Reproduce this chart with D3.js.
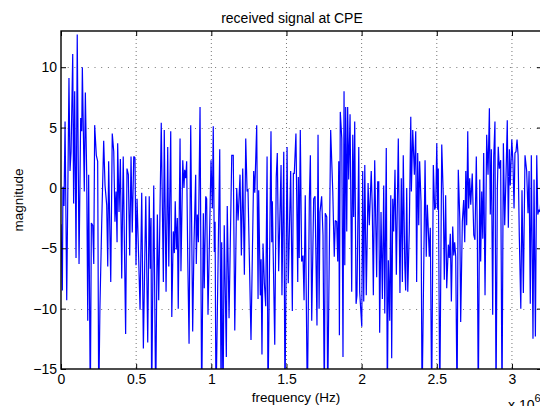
<!DOCTYPE html>
<html>
<head>
<meta charset="utf-8">
<script src="https://cdn.jsdelivr.net/npm/d3@7"></script>
<style>
html,body{margin:0;padding:0;background:#fff;overflow:hidden;}
svg{display:block;}
text{font-family:"Liberation Sans",Arial,Helvetica,sans-serif;}
</style>
</head>
<body>
<svg id="chart" width="540" height="406"></svg>
<script>
// frequency in units of 1e6 Hz (axis shows "x 10^6")
const freq = [
0.000,0.009,0.013,0.020,0.027,0.033,0.038,0.053,0.060,0.067,0.078,0.084,0.091,0.100,0.108,0.120,0.131,0.138,0.142,0.155,
0.162,0.171,0.178,0.184,0.195,0.202,0.211,0.218,0.224,0.235,0.244,0.251,0.259,0.271,0.284,0.293,0.304,0.311,0.317,0.331,
0.341,0.351,0.359,0.366,0.373,0.377,0.386,0.395,0.404,0.414,0.430,0.439,0.448,0.457,0.466,0.474,0.484,0.492,0.499,0.506,
0.526,0.537,0.548,0.564,0.577,0.587,0.594,0.599,0.603,0.617,0.630,0.641,0.650,0.667,0.681,0.687,0.699,0.710,0.717,0.730,
0.737,0.747,0.754,0.760,0.767,0.774,0.780,0.792,0.798,0.810,0.818,0.823,0.830,0.836,0.843,0.852,0.863,0.876,0.885,0.896,
0.900,0.907,0.914,0.925,0.936,0.947,0.953,0.963,0.969,0.978,0.998,1.007,1.013,1.020,1.025,1.031,1.056,1.065,1.069,1.078,
1.086,1.100,1.106,1.118,1.136,1.146,1.156,1.169,1.178,1.191,1.200,1.209,1.220,1.229,1.238,1.244,1.264,1.282,1.289,1.302,
1.311,1.315,1.326,1.331,1.337,1.344,1.353,1.362,1.371,1.377,1.397,1.402,1.406,1.422,1.432,1.439,1.448,1.464,1.470,1.482,
1.490,1.504,1.512,1.528,1.539,1.546,1.552,1.563,1.575,1.579,1.585,1.592,1.601,1.610,1.617,1.625,1.639,1.652,1.659,1.668,
1.681,1.690,1.703,1.710,1.717,1.723,1.734,1.743,1.752,1.758,1.768,1.774,1.794,1.808,1.818,1.825,1.834,1.841,1.848,1.852,
1.858,1.868,1.876,1.883,1.888,1.894,1.901,1.907,1.914,1.923,1.934,1.941,1.947,1.954,1.963,1.969,1.981,1.987,2.001,2.007,
2.014,2.021,2.031,2.043,2.051,2.064,2.071,2.078,2.087,2.100,2.107,2.114,2.120,2.129,2.138,2.147,2.154,2.164,2.171,2.178,
2.187,2.194,2.200,2.207,2.213,2.222,2.231,2.244,2.255,2.264,2.271,2.277,2.287,2.293,2.300,2.307,2.317,2.327,2.331,2.340,
2.351,2.360,2.366,2.373,2.380,2.386,2.395,2.402,2.422,2.430,2.437,2.444,2.450,2.457,2.466,2.477,2.486,2.493,2.500,2.506,
2.510,2.520,2.533,2.543,2.550,2.559,2.566,2.577,2.583,2.590,2.597,2.606,2.613,2.619,2.626,2.635,2.643,2.653,2.659,2.670,
2.679,2.686,2.693,2.699,2.706,2.712,2.719,2.726,2.736,2.746,2.754,2.763,2.770,2.776,2.786,2.792,2.799,2.806,2.812,2.821,
2.832,2.841,2.850,2.856,2.863,2.872,2.879,2.887,2.894,2.903,2.909,2.916,2.925,2.934,2.943,2.952,2.961,2.969,2.976,2.983,
2.989,2.999,3.007,3.014,3.020,3.027,3.034,3.041,3.049,3.059,3.067,3.076,3.087,3.098,3.107,3.114,3.122,3.129,3.140,3.147,
3.156,3.165,3.172,3.180,3.187,3.195,3.200
];
const magnitude = [
-3.0,-8.5,0.1,-1.5,5.5,-2.5,-9.3,9.1,1.4,3.0,11.1,-1.3,8.0,-5.8,12.7,-6.3,5.8,4.7,10.0,-0.3,
7.9,1.1,-11.0,1.1,-18,-2.9,-3.1,-6.3,5.2,2.7,2.2,-18,-9.9,-2.8,3.9,0.2,-1.4,-6.5,2.2,-7.8,
4.5,3.0,-2.8,-0.3,-4.5,3.7,-2.0,2.4,-7.5,2.6,-12.1,1.6,1.1,-5.6,2.6,-3.7,2.6,2.5,-6.4,-0.9,
-10.1,-0.4,-13.3,-0.7,-12.8,-0.7,-6.7,-2.5,-18,0.2,-18,-2.2,-9.3,5.4,-7.8,4.8,-8.6,3.4,-6.5,4.7,
-10.7,-3.6,-5.4,-1.1,-5.1,-2.5,-10.0,4.1,-6.9,2.3,0.0,1.5,0.8,2.2,-5.6,-12.9,5.2,-11.9,-4.5,1.1,
-6.3,-2.2,-4.5,6.7,-18,-2.1,-8.3,-0.7,-0.9,-10.5,2.3,-1.7,5.1,-5.3,-2.8,-18,3.2,-18,-4.5,-18,
-3.1,-14,-1.5,-10.8,2.7,2.7,-11.8,0.0,-2.7,1.1,-5.6,1.6,-7.2,4.1,-0.3,-0.1,-12.6,1.4,-0.4,5.2,
-9.2,-0.2,-8.9,-5.9,-13.8,-4.6,-7.9,-9.8,2.6,-18,4.7,-4.5,-1.1,-13,0.9,2.9,-6.9,1.9,-8.9,3.0,
-18,3.4,-7.9,1.4,-10.2,1.2,1.2,4.5,-7.8,0.9,-5.8,4.8,-6.1,-5.6,-9.3,-0.6,-18,-1.1,2.7,-11,
-0.9,-0.7,-11.4,4.4,-10,-2.0,-0.7,-3.9,-18,-2.1,-2.4,-18,4.8,-0.3,-5.7,-2.7,-2.8,-6.1,2.2,-12.2,
6.3,4.1,-14,8.0,-6.4,6.7,-3.6,6.7,0.7,6.1,-8.6,4.4,-2.4,5.5,-9.6,-8.9,3.4,-8.6,-11.5,1.4,
-9.4,1.9,-8.9,0.4,-3.1,1.4,-1.7,-8.9,2.3,-7.4,0.5,0.5,-12,-2.0,-9.2,0.2,-10.4,3.3,-18,-6.0,
-11,-0.6,-14.1,-0.9,-3.6,1.5,-7.2,4.1,-8.7,0.8,-7.8,2.7,-6.3,-8.5,0,-8.6,-3.6,5.9,-0.3,4.8,
1.1,4.7,-7.8,2.9,-3.1,2.2,-1.1,-18,2.3,-5.7,-1.4,-3.6,-5.7,-3.3,-18,1.9,-1.8,-1.5,3.7,-1.8,
1.6,-18,3.6,-0.6,-7.6,-0.6,-8.3,-4.7,-5.8,-3.8,-9.4,-3.2,-5.6,-4.5,-5.7,-18,1.5,-2.5,-11.1,-2.8,
-1.0,-4.5,1.4,-3.1,4.7,-1.7,0.8,-1.4,1.2,-3.9,-4.3,2.6,-4.2,-18,0.7,-6.1,-0.3,-4.2,2.9,-8.9,
4.4,1.1,6.6,-2.2,3.2,-10.5,2.6,5.5,-18,0,3.4,1.6,2.3,-18,3.7,-3.1,1.2,5.6,-3.3,3.2,
0.2,4.0,2.0,-1.7,2.9,3.0,4.0,2.7,-4.0,-10,-0.2,-8.7,2.7,1.4,-2.1,1.4,-9.6,2.7,-12.5,0.7,
-12.3,2.7,-2.2,-1.8,-2.0,-0.5,1.0
];
const xTicks = [0, 0.5, 1, 1.5, 2, 2.5, 3];
const xTickLabels = ["0", "0.5", "1", "1.5", "2", "2.5", "3"];
const yTicks = [-15, -10, -5, 0, 5, 10];
const yTickLabels = ["\u221215", "\u221210", "\u22125", "0", "5", "10"];
const titleText = "received signal at CPE";
const xLabelText = "frequency (Hz)";
const yLabelText = "magnitude";

const L = 61, R = 542, T = 31, B = 369;
const svg = d3.select("#chart");
const x = d3.scaleLinear().domain([0, 3.2]).range([L, R]);
const y = d3.scaleLinear().domain([-15, 13]).range([B, T]);

svg.append("rect").attr("width", 540).attr("height", 406).attr("fill", "#fff");

// grid
const grid = svg.append("g");
grid.selectAll("line.gx").data(xTicks.filter(d => d > 0)).enter().append("line")
  .attr("x1", d => x(d)).attr("x2", d => x(d)).attr("y1", T).attr("y2", B)
  .attr("stroke", "#777").attr("stroke-width", 1).attr("stroke-dasharray", "1,3");
grid.selectAll("line.gy").data(yTicks.filter(d => d > -15)).enter().append("line")
  .attr("x1", L).attr("x2", R).attr("y1", d => Math.round(y(d)) + 0.5).attr("y2", d => Math.round(y(d)) + 0.5)
  .attr("stroke", "#777").attr("stroke-width", 1).attr("stroke-dasharray", "1,5.7");

// data line
svg.append("clipPath").attr("id", "clip").append("rect")
  .attr("x", L).attr("y", T).attr("width", R - L).attr("height", B - T);
const pts = freq.map((f, i) => [f, magnitude[i]]);
svg.append("path").datum(pts)
  .attr("clip-path", "url(#clip)")
  .attr("fill", "none").attr("stroke", "#0000ff").attr("stroke-width", 1.2)
  .attr("stroke-linejoin", "miter").attr("stroke-miterlimit", 2)
  .attr("d", d3.line().x(d => x(d[0])).y(d => y(d[1])));

// axes
const fmtX = d => xTickLabels[xTicks.indexOf(d)];
const fmtY = d => yTickLabels[yTicks.indexOf(d)];
const gB = svg.append("g").attr("transform", `translate(0,${B})`)
  .call(d3.axisBottom(x).tickValues(xTicks).tickFormat(fmtX).tickSizeInner(-5).tickSizeOuter(0).tickPadding(5));
const gT = svg.append("g").attr("transform", `translate(0,${T})`)
  .call(d3.axisTop(x).tickValues(xTicks).tickFormat("").tickSizeInner(-5).tickSizeOuter(0));
const gL = svg.append("g").attr("transform", `translate(${L},0)`)
  .call(d3.axisLeft(y).tickValues(yTicks).tickFormat(fmtY).tickSizeInner(-5).tickSizeOuter(0).tickPadding(4));
const gR = svg.append("g").attr("transform", `translate(${R},0)`)
  .call(d3.axisRight(y).tickValues(yTicks).tickFormat("").tickSizeInner(-5).tickSizeOuter(0));
[gB, gT, gL, gR].forEach(g => {
  g.select(".domain").remove();
  g.selectAll(".tick line").attr("stroke", "#000").attr("stroke-width", 1);
  g.selectAll("text").attr("font-size", 14).attr("fill", "#000")
    .attr("font-family", "'Liberation Sans', Arial, Helvetica, sans-serif");
});

// box
svg.append("rect").attr("x", L).attr("y", T).attr("width", R - L).attr("height", B - T)
  .attr("fill", "none").attr("stroke", "#000").attr("stroke-width", 1.4);

// texts
svg.append("text").attr("x", 292).attr("y", 23).attr("text-anchor", "middle")
  .attr("font-size", 14).text(titleText);
svg.append("text").attr("x", 296).attr("y", 402).attr("text-anchor", "middle")
  .attr("font-size", 13.5).text(xLabelText);
svg.append("text").attr("transform", "translate(23,200) rotate(-90)").attr("text-anchor", "middle")
  .attr("font-size", 13.5).text(yLabelText);
const mult = svg.append("text").attr("x", 508).attr("y", 410).attr("font-size", 14);
mult.append("tspan").text("x 10");
mult.append("tspan").attr("dy", -8).attr("font-size", 11).text("6");
</script>
</body>
</html>
